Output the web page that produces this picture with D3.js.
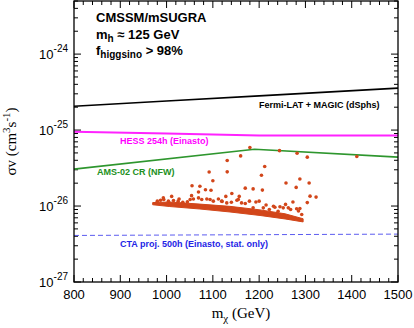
<!DOCTYPE html>
<html>
<head>
<meta charset="utf-8">
<script src="https://cdn.jsdelivr.net/npm/d3@7"></script>
<style>
    body { margin: 0; background: #fff; }
    svg text { font-family: "Liberation Sans", Arial, sans-serif; }
</style>
</head>
<body>
<div id="viz"></div>
<script>
//Datos
const xTicks = [800, 900, 1000, 1100, 1200, 1300, 1400, 1500];
const yTicks = [1e-27, 1e-26, 1e-25, 1e-24];
const yTickExp = ['-27', '-26', '-25', '-24'];

//Límites (líneas)
const fermiMass = [800, 1000, 1200, 1500];
const fermiSigma = [2.06e-25, 2.41e-25, 2.82e-25, 3.57e-25];

const hessMass = [800, 1000, 1200, 1500];
const hessSigma = [9.5e-26, 9.0e-26, 8.5e-26, 8.5e-26];

const amsMass = [800, 1190, 1500];
const amsSigma = [3.06e-26, 5.6e-26, 4.4e-26];

const ctaMass = [800, 1500];
const ctaSigma = [4.1e-27, 4.27e-27];

//Banda densa de puntos del escaneo
const bandMass = [970, 1007, 1072, 1137, 1202, 1256, 1295];
const bandLow = [1.04e-26, 9.85e-27, 9.14e-27, 8.35e-27, 7.51e-27, 6.76e-27, 6.18e-27];
const bandHigh = [1.11e-26, 1.13e-26, 1.06e-26, 9.9e-27, 8.9e-27, 7.9e-27, 6.8e-27];

//Puntos sueltos del escaneo
const scanMass = [
    1180, 1244, 1282, 1304, 1411, 1160, 1131, 1131, 1092, 1100,
    1212, 1205, 1258, 1288, 1308, 1280, 1170, 1187, 1207, 1055,
    1072, 1084, 1096, 1069, 1054, 1011, 994, 1027, 1310, 1323,
    1304, 1157, 1141, 1128,
    980, 987, 993, 1004, 1015, 1025, 1051, 1058, 1069, 1076,
    1087, 1094, 1101, 1112, 1119, 1120, 1152, 1155, 1162, 1179,
    1193, 1200, 1187, 1209, 1231, 1234, 1252, 1257, 1263, 1273,
    1281, 1288, 1292, 1241, 1222,
    1035, 1045, 1130, 1140, 1170, 1215, 1245, 1268, 1285
];
const scanSigma = [
    5.9e-26, 5.36e-26, 4.96e-26, 4.40e-26, 4.48e-26, 4.57e-26, 3.97e-26, 2.82e-26, 2.80e-26, 2.15e-26,
    3.31e-26, 2.54e-26, 2.01e-26, 2.27e-26, 2.01e-26, 1.76e-26, 1.72e-26, 1.68e-26, 1.62e-26, 1.85e-26,
    1.82e-26, 1.64e-26, 1.61e-26, 1.53e-26, 1.37e-26, 1.34e-26, 1.22e-26, 1.24e-26, 1.35e-26, 1.31e-26,
    1.11e-26, 1.34e-26, 1.46e-26, 1.34e-26,
    1.16e-26, 1.19e-26, 1.28e-26, 1.16e-26, 1.18e-26, 1.16e-26, 1.22e-26, 1.24e-26, 1.28e-26, 1.22e-26,
    1.24e-26, 1.22e-26, 1.16e-26, 1.24e-26, 1.16e-26, 1.15e-26, 1.19e-26, 1.22e-26, 1.10e-26, 1.16e-26,
    1.13e-26, 1.16e-26, 9.47e-27, 9.47e-27, 9.94e-27, 9.64e-27, 9.47e-27, 1.05e-26, 9.47e-27, 1.13e-26,
    9.19e-27, 9.28e-27, 7.74e-27, 8.55e-27, 9.0e-27,
    1.12e-26, 1.14e-26, 1.10e-26, 1.12e-26, 1.08e-26, 1.03e-26, 9.8e-27, 9.0e-27, 8.6e-27
];

const COLOR_DOTS = '#d2461a',
    COLOR_FERMI = '#000000',
    COLOR_HESS = '#ff22ff',
    COLOR_AMS = '#2e962e',
    COLOR_CTA = '#5c5cf0';

let margin = {top: 1, right: 16, bottom: 46, left: 74},
    width = 414 - margin.left - margin.right,
    height = 328 - margin.top - margin.bottom;

let svg = d3.select('#viz')
    .append('svg')
        .attr('width', 414)
        .attr('height', 328)
    .append('g')
        .attr('transform', 'translate(' + margin.left + ',' + margin.top + ')');

let x = d3.scaleLinear().domain([800, 1500]).range([0, width]);
let y = d3.scaleLog().domain([1e-27, 5e-24]).range([height, 0]);

//Ticks (dentro, en los cuatro lados)
let xMinor = d3.range(800, 1501, 20).filter(function(d) { return d % 100 != 0; });
let yMinor = [];
[-27, -26, -25, -24].forEach(function(e) {
    for (let k = 2; k <= 9; k++) {
        let v = k * Math.pow(10, e);
        if (v <= 5e-24) yMinor.push(v);
    }
});

let ticks = svg.append('g').attr('stroke', '#000').attr('stroke-width', 1);
xTicks.forEach(function(d) {
    ticks.append('line').attr('x1', x(d)).attr('x2', x(d)).attr('y1', height).attr('y2', height - 7);
    ticks.append('line').attr('x1', x(d)).attr('x2', x(d)).attr('y1', 0).attr('y2', 7);
});
xMinor.forEach(function(d) {
    ticks.append('line').attr('x1', x(d)).attr('x2', x(d)).attr('y1', height).attr('y2', height - 4);
    ticks.append('line').attr('x1', x(d)).attr('x2', x(d)).attr('y1', 0).attr('y2', 4);
});
yTicks.forEach(function(d) {
    ticks.append('line').attr('x1', 0).attr('x2', 7).attr('y1', y(d)).attr('y2', y(d));
    ticks.append('line').attr('x1', width).attr('x2', width - 7).attr('y1', y(d)).attr('y2', y(d));
});
yMinor.forEach(function(d) {
    ticks.append('line').attr('x1', 0).attr('x2', 4).attr('y1', y(d)).attr('y2', y(d));
    ticks.append('line').attr('x1', width).attr('x2', width - 4).attr('y1', y(d)).attr('y2', y(d));
});

//Etiquetas de ejes
svg.append('g').selectAll('text')
    .data(xTicks)
    .enter()
    .append('text')
    .attr('x', function(d) { return x(d); })
    .attr('y', height + 17)
    .attr('text-anchor', 'middle')
    .attr('font-size', 13)
    .text(function(d) { return d; });

let yLab = svg.append('g').selectAll('text')
    .data(yTicks)
    .enter()
    .append('text')
    .attr('x', -6)
    .attr('y', function(d) { return y(d) + 5; })
    .attr('text-anchor', 'end')
    .attr('font-size', 13);
yLab.append('tspan').text('10');
yLab.append('tspan')
    .attr('dy', -7)
    .attr('font-size', 10)
    .text(function(d, i) { return yTickExp[i]; });

//Líneas
let line = d3.line()
    .x(function(d) { return x(d[0]); })
    .y(function(d) { return y(d[1]); });

function drawLine(mass, sigma, color, w, dash) {
    let p = svg.append('path')
        .datum(d3.zip(mass, sigma))
        .attr('fill', 'none')
        .attr('stroke', color)
        .attr('stroke-width', w)
        .attr('d', line);
    if (dash) p.attr('stroke-dasharray', dash);
}

drawLine(fermiMass, fermiSigma, COLOR_FERMI, 1.6);
drawLine(hessMass, hessSigma, COLOR_HESS, 2);
drawLine(amsMass, amsSigma, COLOR_AMS, 1.6);
drawLine(ctaMass, ctaSigma, COLOR_CTA, 1, '5,3');

//Escaneo
let area = d3.area()
    .x(function(d) { return x(d[0]); })
    .y0(function(d) { return y(d[1]); })
    .y1(function(d) { return y(d[2]); });

svg.append('path')
    .datum(d3.zip(bandMass, bandLow, bandHigh))
    .attr('fill', COLOR_DOTS)
    .attr('stroke', COLOR_DOTS)
    .attr('stroke-width', 1)
    .attr('d', area);

svg.append('g').selectAll('circle')
    .data(d3.zip(scanMass, scanSigma))
    .enter()
    .append('circle')
    .attr('cx', function(d) { return x(d[0]); })
    .attr('cy', function(d) { return y(d[1]); })
    .attr('r', 1.8)
    .attr('fill', COLOR_DOTS);

//Marco
svg.append('rect')
    .attr('width', width)
    .attr('height', height)
    .attr('fill', 'none')
    .attr('stroke', '#000')
    .attr('stroke-width', 1.3);

//Textos
let info = svg.append('g').attr('font-weight', 'bold').attr('font-size', 13);
info.append('text').attr('x', 22).attr('y', 21).text('CMSSM/mSUGRA');
let mh = info.append('text').attr('x', 22).attr('y', 38);
mh.append('tspan').text('m');
mh.append('tspan').attr('dy', 3).attr('font-size', 10).text('h');
mh.append('tspan').attr('dy', -3).text(' \u2248 125 GeV');
let fh = info.append('text').attr('x', 22).attr('y', 54);
fh.append('tspan').text('f');
fh.append('tspan').attr('dy', 3).attr('font-size', 10).text('higgsino');
fh.append('tspan').attr('dy', -3).text(' > 98%');

let labels = svg.append('g').attr('font-weight', 'bold').attr('font-size', 9);
labels.append('text').attr('x', 185).attr('y', 107).attr('fill', '#000').text('Fermi-LAT + MAGIC (dSphs)');
labels.append('text').attr('x', 46).attr('y', 143).attr('fill', '#ff00ff').text('HESS 254h (Einasto)');
labels.append('text').attr('x', 23).attr('y', 174).attr('fill', '#219021').text('AMS-02 CR (NFW)');
labels.append('text').attr('x', 46).attr('y', 246).attr('fill', '#2424e6').text('CTA proj. 500h (Einasto, stat. only)');

//Títulos de ejes
let xt = svg.append('text')
    .attr('x', width / 2 + 5)
    .attr('y', height + 36)
    .attr('text-anchor', 'middle')
    .attr('font-size', 15)
    .style('font-family', '"Liberation Serif", "Times New Roman", serif');
xt.append('tspan').text('m');
xt.append('tspan').attr('dy', 4).attr('font-size', 11).text('\u03c7');
xt.append('tspan').attr('dy', -4).text(' (GeV)');

let yt = svg.append('text')
    .attr('transform', 'translate(' + (-58) + ',' + (height / 2) + ')rotate(-90)')
    .attr('text-anchor', 'middle')
    .attr('font-size', 15)
    .style('font-family', '"Liberation Serif", "Times New Roman", serif');
yt.append('tspan').text('\u03c3v (cm');
yt.append('tspan').attr('dy', -6).attr('font-size', 11).text('3');
yt.append('tspan').attr('dy', 6).text('s');
yt.append('tspan').attr('dy', -6).attr('font-size', 11).text('-1');
yt.append('tspan').attr('dy', 6).text(')');
</script>
</body>
</html>
